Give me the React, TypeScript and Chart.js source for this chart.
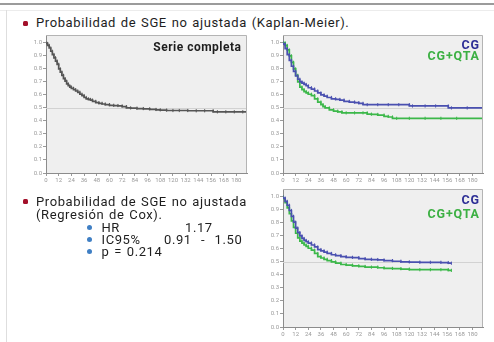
import React, { useEffect, useRef } from "react";
import { Chart, registerables } from "chart.js";

Chart.register(...registerables);

const FONT = "Roboto, 'Liberation Sans', Arial, sans-serif";

// Axis ticks shared by the three survival panels
const monthTicks = [0, 12, 24, 36, 48, 60, 72, 84, 96, 108, 120, 132, 144, 156, 168, 180];
const probTicks = [0, 0.1, 0.2, 0.3, 0.4, 0.5, 0.6, 0.7, 0.8, 0.9, 1.0];

// Kaplan-Meier, whole series
const serieMonths = [0, 1.5, 3, 4.5, 6, 7.5, 9, 10.5, 12, 13.5, 15, 16.5, 18, 19.5, 21, 22.5, 24, 26, 28, 30, 32, 34, 36, 38, 40, 42, 44, 47, 50, 53, 56, 60, 64, 68, 72, 76, 80, 86, 92, 98, 104, 108, 114, 120, 126, 134, 142, 150, 158, 162, 170, 178, 186, 190];
const serieSurv = [1.0, 0.995, 0.98, 0.96, 0.935, 0.91, 0.885, 0.86, 0.835, 0.8, 0.775, 0.75, 0.725, 0.705, 0.685, 0.67, 0.66, 0.65, 0.64, 0.63, 0.62, 0.605, 0.595, 0.58, 0.57, 0.565, 0.56, 0.55, 0.54, 0.535, 0.53, 0.525, 0.52, 0.518, 0.515, 0.51, 0.5, 0.498, 0.495, 0.493, 0.488, 0.485, 0.483, 0.48, 0.48, 0.48, 0.478, 0.478, 0.478, 0.47, 0.47, 0.47, 0.47, 0.47];

// Kaplan-Meier by arm
const kmCgMonths = [0, 2, 4, 6, 8, 10, 12, 14, 16, 18, 20, 22, 24, 27, 30, 33, 36, 39, 42, 46, 50, 54, 58, 63, 68, 72, 76, 80, 90, 100, 110, 120, 123, 135, 145, 157, 160, 175, 190];
const kmCgSurv = [1.0, 0.99, 0.955, 0.91, 0.865, 0.82, 0.78, 0.745, 0.72, 0.7, 0.69, 0.68, 0.67, 0.655, 0.645, 0.63, 0.615, 0.6, 0.59, 0.58, 0.57, 0.565, 0.56, 0.55, 0.545, 0.54, 0.535, 0.525, 0.525, 0.525, 0.525, 0.525, 0.515, 0.515, 0.515, 0.515, 0.5, 0.5, 0.5];
const kmQtaMonths = [0, 2, 4, 6, 8, 10, 12, 14, 16, 18, 20, 22, 24, 27, 30, 33, 36, 38, 40, 44, 48, 52, 56, 60, 68, 76, 80, 84, 90, 96, 100, 104, 108, 120, 135, 150, 165, 190];
const kmQtaSurv = [1.0, 1.0, 0.98, 0.945, 0.9, 0.85, 0.8, 0.75, 0.7, 0.66, 0.64, 0.625, 0.615, 0.605, 0.595, 0.57, 0.545, 0.525, 0.51, 0.5, 0.485, 0.475, 0.47, 0.462, 0.462, 0.462, 0.462, 0.452, 0.45, 0.445, 0.435, 0.43, 0.42, 0.42, 0.42, 0.42, 0.42, 0.42];

// Cox regression curves by arm
const coxMonths = [0, 2, 4, 6, 8, 10, 12, 14, 16, 18, 20, 22, 24, 27, 30, 33, 36, 39, 42, 46, 50, 55, 60, 66, 72, 78, 84, 90, 96, 104, 112, 120, 130, 140, 150, 157, 160];
const coxCgSurv = [1.0, 0.99, 0.965, 0.935, 0.895, 0.85, 0.805, 0.76, 0.725, 0.7, 0.68, 0.665, 0.655, 0.645, 0.63, 0.615, 0.595, 0.585, 0.575, 0.565, 0.555, 0.548, 0.54, 0.535, 0.533, 0.525, 0.52, 0.518, 0.515, 0.51, 0.505, 0.5, 0.498, 0.497, 0.497, 0.495, 0.49];
const coxQtaSurv = [1.0, 0.985, 0.955, 0.915, 0.87, 0.815, 0.765, 0.72, 0.685, 0.66, 0.645, 0.63, 0.62, 0.605, 0.59, 0.565, 0.54, 0.53, 0.52, 0.51, 0.5, 0.49, 0.48, 0.475, 0.47, 0.465, 0.46, 0.46, 0.455, 0.45, 0.448, 0.445, 0.44, 0.44, 0.44, 0.44, 0.435];

const coxLabels = ["HR", "IC95%", "p = 0.214"];
const coxValues = ["1.17", "0.91 - 1.50", ""];

const GRAY = "#555555";
const BLUE = "#4a50b0";
const GREEN = "#3cb84a";
const BLUE_TXT = "#2e2f96";
const GREEN_TXT = "#3cb043";

type Series = { x: number[]; y: number[]; color: string };
type Box = { left: number; top: number; width: number; height: number };
type Area = { left: number; top: number; right: number; bottom: number };

const panelPlugin = {
  id: "kmPanel",
  beforeDraw(chart: any) {
    const { ctx, chartArea: a } = chart;
    ctx.save();
    ctx.fillStyle = "#efefef";
    ctx.fillRect(a.left, a.top, a.right - a.left, a.bottom - a.top);
    ctx.restore();
  },
  beforeDatasetsDraw(chart: any) {
    const { ctx, chartArea: a, scales } = chart;
    const y = Math.round(scales.y.getPixelForValue(0.5)) + 0.5;
    ctx.save();
    ctx.strokeStyle = "#d2d2d2";
    ctx.lineWidth = 1;
    ctx.beginPath();
    ctx.moveTo(a.left, y);
    ctx.lineTo(a.right, y);
    ctx.stroke();
    ctx.restore();
  },
  afterDraw(chart: any) {
    const { ctx, chartArea: a } = chart;
    ctx.save();
    ctx.strokeStyle = "#b4b4b4";
    ctx.lineWidth = 1;
    ctx.beginPath();
    ctx.moveTo(a.left, a.top + 0.5);
    ctx.lineTo(a.right - 0.5, a.top + 0.5);
    ctx.lineTo(a.right - 0.5, a.bottom);
    ctx.stroke();
    ctx.restore();
  },
};

function KMPanel({ box, area, series }: { box: Box; area: Area; series: Series[] }) {
  const ref = useRef<HTMLCanvasElement>(null);
  useEffect(() => {
    if (!ref.current) return;
    const tickFont = { family: FONT, size: 6 };
    const chart = new Chart(ref.current, {
      type: "line",
      data: {
        datasets: series.map((s) => ({
          data: s.x.map((x, i) => ({ x, y: s.y[i] })),
          borderColor: s.color,
          backgroundColor: s.color,
          borderWidth: 1.7,
          stepped: "after" as const,
          pointStyle: "line",
          pointRotation: 90,
          pointRadius: 1.6,
          pointBorderWidth: 1,
          pointBorderColor: s.color,
          pointHoverRadius: 0,
          fill: false,
        })),
      },
      options: {
        animation: false,
        responsive: false,
        events: [],
        layout: {
          padding: {
            left: 0,
            bottom: 0,
            top: area.top - box.top,
            right: box.left + box.width - area.right,
          },
        },
        plugins: { legend: { display: false }, tooltip: { enabled: false } },
        scales: {
          x: {
            type: "linear",
            min: 0,
            max: 190,
            afterBuildTicks: (s: any) => {
              s.ticks = monthTicks.map((v) => ({ value: v }));
            },
            afterFit: (s: any) => {
              s.height = box.top + box.height - area.bottom;
            },
            ticks: {
              font: tickFont,
              color: "#9a9a9a",
              padding: 1,
              maxRotation: 0,
              autoSkip: false,
              callback: (v: any) => String(v),
            },
            grid: { drawOnChartArea: false, tickLength: 3, color: "#9a9a9a" },
            border: { color: "#8c8c8c" },
          },
          y: {
            type: "linear",
            min: 0,
            max: 1.06,
            afterBuildTicks: (s: any) => {
              s.ticks = probTicks.map((v) => ({ value: v }));
            },
            afterFit: (s: any) => {
              s.width = area.left - box.left;
            },
            ticks: {
              font: tickFont,
              color: "#9a9a9a",
              padding: 1,
              autoSkip: false,
              callback: (v: any) => Number(v).toFixed(1),
            },
            grid: { drawOnChartArea: false, tickLength: 3, color: "#9a9a9a" },
            border: { color: "#8c8c8c" },
          },
        },
      },
      plugins: [panelPlugin],
    } as any);
    return () => chart.destroy();
  }, []);
  return (
    <canvas
      ref={ref}
      width={box.width}
      height={box.height}
      style={{ position: "absolute", left: box.left, top: box.top, width: box.width, height: box.height }}
    />
  );
}

function Txt({
  x,
  base,
  size,
  color = "#1e1e1e",
  bold = false,
  align = "left",
  ls = 0.6,
  ws = 1,
  children,
}: {
  x: number;
  base: number;
  size: number;
  color?: string;
  bold?: boolean;
  align?: "left" | "right";
  ls?: number;
  ws?: number;
  children: React.ReactNode;
}) {
  const style: React.CSSProperties = {
    position: "absolute",
    top: base - 0.842 * size,
    fontFamily: FONT,
    fontSize: size,
    lineHeight: `${size}px`,
    fontWeight: bold ? 700 : 400,
    letterSpacing: ls,
    wordSpacing: ws,
    color,
    whiteSpace: "nowrap",
  };
  if (align === "right") style.right = 494 - x - ls;
  else style.left = x;
  return <div style={style}>{children}</div>;
}

function Square({ x, y }: { x: number; y: number }) {
  return (
    <div
      style={{
        position: "absolute",
        left: x - 2.5,
        top: y - 2.5,
        width: 5,
        height: 5,
        borderRadius: 1.5,
        background: "#a3102a",
      }}
    />
  );
}

function Dot({ x, y }: { x: number; y: number }) {
  return (
    <div
      style={{
        position: "absolute",
        left: x - 2.5,
        top: y - 2.5,
        width: 5,
        height: 5,
        borderRadius: "50%",
        background: "#3f7fc4",
      }}
    />
  );
}

export default function App() {
  const coxRows = [227.5, 239.5, 251.8];
  return (
    <div
      style={{
        position: "absolute",
        left: 0,
        top: 0,
        width: 494,
        height: 342,
        background: "#ffffff",
        overflow: "hidden",
      }}
    >
      <div style={{ position: "absolute", left: 0, top: 3, width: 494, height: 2, background: "#9b9b9b" }} />
      <div style={{ position: "absolute", left: 0, top: 10, width: 494, height: 1, background: "#ececec" }} />
      <div style={{ position: "absolute", left: 6, top: 10, width: 1, height: 332, background: "#dedede" }} />

      <Square x={25.3} y={23.3} />
      <Txt x={36} base={27} size={13}>
        Probabilidad de SGE no ajustada (Kaplan-Meier).
      </Txt>

      <KMPanel
        box={{ left: 14, top: 30, width: 238, height: 157 }}
        area={{ left: 46, top: 35, right: 247, bottom: 173 }}
        series={[{ x: serieMonths, y: serieSurv, color: GRAY }]}
      />
      <Txt x={241} base={51} size={12} bold align="right" ls={0.5} ws={0}>
        Serie completa
      </Txt>

      <KMPanel
        box={{ left: 252, top: 30, width: 236, height: 157 }}
        area={{ left: 283, top: 35, right: 483, bottom: 173 }}
        series={[
          { x: kmCgMonths, y: kmCgSurv, color: BLUE },
          { x: kmQtaMonths, y: kmQtaSurv, color: GREEN },
        ]}
      />
      <Txt x={479} base={50} size={12.5} bold align="right" color={BLUE_TXT} ls={0.8} ws={0}>
        CG
      </Txt>
      <Txt x={479} base={61} size={12.5} bold align="right" color={GREEN_TXT} ls={0.8} ws={0}>
        CG+QTA
      </Txt>

      <KMPanel
        box={{ left: 252, top: 184, width: 236, height: 157 }}
        area={{ left: 283, top: 189, right: 483, bottom: 327 }}
        series={[
          { x: coxMonths, y: coxCgSurv, color: BLUE },
          { x: coxMonths, y: coxQtaSurv, color: GREEN },
        ]}
      />
      <Txt x={479} base={204.5} size={12.5} bold align="right" color={BLUE_TXT} ls={0.8} ws={0}>
        CG
      </Txt>
      <Txt x={479} base={218.5} size={12.5} bold align="right" color={GREEN_TXT} ls={0.8} ws={0}>
        CG+QTA
      </Txt>

      <Square x={25.5} y={201.5} />
      <Txt x={36} base={206} size={13}>
        Probabilidad de SGE no ajustada
      </Txt>
      <Txt x={36} base={218.5} size={13}>
        (Regresión de Cox).
      </Txt>

      {coxLabels.map((label, i) => (
        <React.Fragment key={label}>
          <Dot x={89} y={coxRows[i]} />
          <Txt x={101.5} base={coxRows[i] + 4.5} size={13}>
            {label}
          </Txt>
        </React.Fragment>
      ))}
      <Txt x={185} base={coxRows[0] + 4.5} size={13}>
        {coxValues[0]}
      </Txt>
      <Txt x={164} base={coxRows[1] + 4.5} size={13} ws={5.5}>
        {coxValues[1]}
      </Txt>
    </div>
  );
}
